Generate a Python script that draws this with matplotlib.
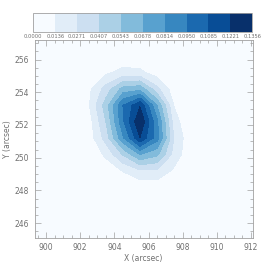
import numpy as np
import matplotlib
matplotlib.use("Agg")
import matplotlib.pyplot as plt
from matplotlib.colors import ListedColormap
from matplotlib.ticker import MultipleLocator

# ===== dados =====
# grade de 1 arcsec em torno da fonte
X_NODES = [900.5, 901.5, 902.5, 903.5, 904.5, 905.5, 906.5, 907.5, 908.5, 909.5, 910.5]
Y_NODES = [247.2, 248.2, 249.2, 250.2, 251.2, 252.2, 253.2, 254.2, 255.2, 256.2, 257.2]
PEAK = 0.13565
# intensidade normalizada (linhas = Y de baixo p/ cima, colunas = X)
REL_FLUX = [
    [0, 0, 0,     0,     0,     0,     0,     0,     0,     0, 0],
    [0, 0, 0,     0.005, 0.016, 0.031, 0.036, 0.018, 0.003, 0, 0],
    [0, 0, 0.005, 0.036, 0.105, 0.182, 0.180, 0.081, 0.012, 0, 0],
    [0, 0, 0.018, 0.120, 0.310, 0.504, 0.424, 0.160, 0.021, 0, 0],
    [0, 0, 0.039, 0.242, 0.581, 0.895, 0.640, 0.190, 0.020, 0, 0],
    [0, 0, 0.050, 0.300, 0.680, 1.000, 0.620, 0.145, 0.005, 0, 0],
    [0, 0.009, 0.090, 0.350, 0.701, 0.890, 0.500, 0.095, 0, 0, 0],
    [0, 0.010, 0.077, 0.240, 0.437, 0.471, 0.231, 0.040, 0, 0, 0],
    [0, 0.004, 0.030, 0.081, 0.136, 0.125, 0.053, 0.007, 0, 0, 0],
    [0, 0.001, 0.007, 0.017, 0.027, 0.021, 0.007, 0.001, 0, 0, 0],
    [0, 0, 0,     0,     0,     0,     0,     0,     0,     0, 0],
]
CBAR_LABELS = ["0.0000", "0.0136", "0.0271", "0.0407", "0.0543", "0.0678",
               "0.0814", "0.0950", "0.1085", "0.1221", "0.1356"]
X_LIM = (899.33, 912.1)
Y_LIM = (245.1, 257.2)

GRAY = "#707070"
EDGE = "#a0a0a0"

flux = PEAK * np.array(REL_FLUX)
levels = np.linspace(0, PEAK, len(CBAR_LABELS))
cmap = ListedColormap(plt.cm.Blues(np.linspace(0, 1, len(levels) - 1)))

fig = plt.figure(figsize=(2.73, 2.73), dpi=100)
ax = fig.add_axes([0.127, 0.129, 0.7985, 0.7245])
ax.set_facecolor(cmap(0))

cs = ax.contourf(X_NODES, Y_NODES, flux, levels=levels, cmap=cmap)

ax.set_xlim(*X_LIM)
ax.set_ylim(*Y_LIM)
ax.xaxis.set_major_locator(MultipleLocator(2))
ax.xaxis.set_minor_locator(MultipleLocator(0.5))
ax.yaxis.set_major_locator(MultipleLocator(2))
ax.yaxis.set_minor_locator(MultipleLocator(0.5))
ax.tick_params(which="both", direction="in", top=True, right=True,
               colors=EDGE, labelcolor=GRAY, labelsize=5.5, width=0.5)
ax.tick_params(which="major", length=4, pad=4)
ax.tick_params(which="minor", length=2)
for sp in ax.spines.values():
    sp.set_color(EDGE)
    sp.set_linewidth(0.6)
ax.set_xlabel("X (arcsec)", fontsize=5.5, color=GRAY, labelpad=1)
ax.set_ylabel("Y (arcsec)", fontsize=5.5, color=GRAY, labelpad=2)

# barra de cores no topo
cax = fig.add_axes([0.122, 0.882, 0.802, 0.07])
cb = fig.colorbar(cs, cax=cax, orientation="horizontal", ticks=levels)
cb.set_ticklabels(CBAR_LABELS)
cax.tick_params(length=0, labelsize=3.7, colors=GRAY, pad=1.5)
cb.outline.set_edgecolor(EDGE)
cb.outline.set_linewidth(0.6)

fig.savefig("out.png", dpi=100)
